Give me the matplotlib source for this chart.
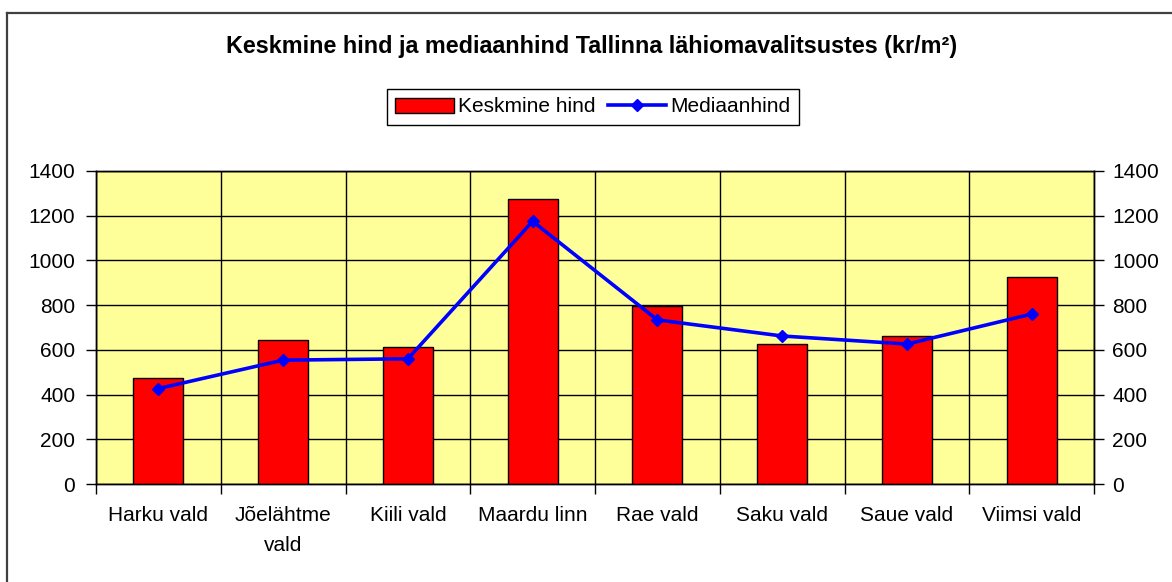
import matplotlib
matplotlib.use('Agg')
import matplotlib.pyplot as plt
from matplotlib.lines import Line2D
import numpy as np

plt.rcParams['font.family'] = ['Liberation Sans', 'DejaVu Sans']

# Data
categories = ['Harku vald', 'Jõelähtme\nvald', 'Kiili vald', 'Maardu linn',
              'Rae vald', 'Saku vald', 'Saue vald', 'Viimsi vald']
mean_price = [472, 644, 614, 1275, 796, 626, 662, 925]
median_price = [427, 554, 560, 1175, 734, 662, 626, 760]
y_ticks = [0, 200, 400, 600, 800, 1000, 1200, 1400]

title = 'Keskmine hind ja mediaanhind Tallinna lähiomavalitsustes (kr/m²)'
fs = 15

fig = plt.figure(figsize=(11.72, 5.82), dpi=100)
ax = fig.add_axes([96 / 1172, 1 - 484 / 582, 998 / 1172, 313 / 582])
ax.set_facecolor('#FFFF99')

x = np.arange(len(categories))
bars = ax.bar(x, mean_price, width=0.4, color='#FF0000', edgecolor='black',
              linewidth=1, zorder=3, label='Keskmine hind')
line, = ax.plot(x, median_price, color='#0000FF', lw=2.6, marker='D',
                markersize=6, zorder=4, label='Mediaanhind')

ax.set_xlim(-0.5, len(categories) - 0.5)
ax.set_ylim(0, 1400)
ax.set_yticks(y_ticks)

# category boundaries as major ticks (grid), labels on minor ticks
ax.set_xticks(np.arange(len(categories) + 1) - 0.5)
ax.set_xticklabels([])
ax.set_xticks(x, minor=True)
ax.set_xticklabels(categories, minor=True, fontsize=fs, linespacing=1.75,
                   va='top')
ax.tick_params(axis='x', which='minor', length=0, pad=16)
ax.tick_params(axis='x', which='major', length=7, width=1, direction='out')
ax.tick_params(axis='y', length=7, width=1, direction='out', pad=8,
               labelsize=fs)

ax.grid(True, which='major', color='black', lw=1, zorder=1)
ax.set_axisbelow(True)
for s in ax.spines.values():
    s.set_color('black')
    s.set_linewidth(1)

ax2 = ax.twinx()
ax2.set_ylim(0, 1400)
ax2.set_yticks(y_ticks)
ax2.tick_params(axis='y', length=7, width=1, direction='out', pad=6,
                labelsize=fs)
for s in ax2.spines.values():
    s.set_color('black')
    s.set_linewidth(1)

fig.text(592 / 1172, 1 - 47 / 582, title, ha='center', va='center',
         fontsize=16.8, fontweight='bold')

fig.legend([bars, line], ['Keskmine hind', 'Mediaanhind'], loc='center',
           bbox_to_anchor=(593 / 1172, 1 - 107 / 582), ncol=2,
           frameon=True, fancybox=False, edgecolor='black', framealpha=1,
           fontsize=fs, handlelength=2.8, handletextpad=0.2,
           columnspacing=0.6, borderpad=0.4)

# outer chart frame (cut off at right and bottom in the reference)
fig.add_artist(Line2D([7 / 1172, 7 / 1172], [1 - 13 / 582, 0],
                      color='#404040', lw=1.6, transform=fig.transFigure))
fig.add_artist(Line2D([7 / 1172, 1], [1 - 13 / 582, 1 - 13 / 582],
                      color='#404040', lw=1.6, transform=fig.transFigure))

fig.savefig('out.png', dpi=100)
